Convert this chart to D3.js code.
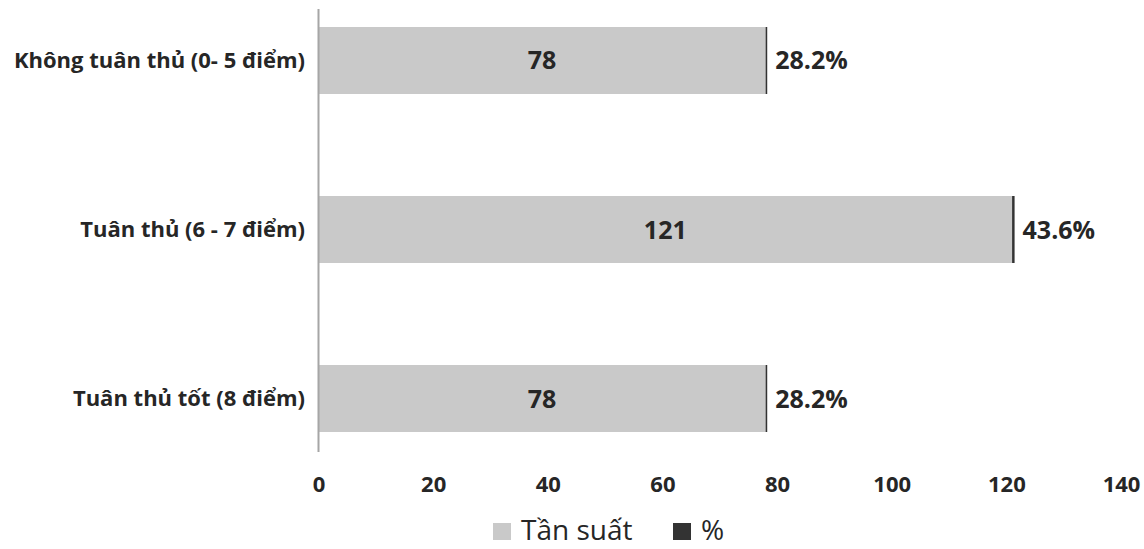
<!DOCTYPE html>
<html><head><meta charset="utf-8">
<script src="https://cdn.jsdelivr.net/npm/d3@7"></script>
<style>body{margin:0;background:#fff}svg{display:block}</style>
</head><body>
<svg id="c" width="1144" height="549"></svg>
<script>
const categories = ["Không tuân thủ (0- 5 điểm)", "Tuân thủ (6 - 7 điểm)", "Tuân thủ tốt (8 điểm)"];
const frequency = [78, 121, 78];
const percent = [28.2, 43.6, 28.2];
const xTicks = [0, 20, 40, 60, 80, 100, 120, 140];
const seriesNames = ["Tần suất", "%"];
const colors = ["#c9c9c9", "#333333"];

const svg = d3.select("#c");
const font = "'Open Sans', 'Noto Sans', sans-serif";
const textCol = "#262626";

const x = d3.scaleLinear().domain([0, 140]).range([318.5, 1121]);
const y = d3.scaleBand().domain(categories).range([27, 432]).paddingInner(0.6036).paddingOuter(0);

// bars: frequency
svg.append("g").selectAll("rect").data(categories).join("rect")
  .attr("x", x(0)).attr("y", d => y(d))
  .attr("width", (d, i) => x(frequency[i]) - x(0))
  .attr("height", y.bandwidth())
  .attr("fill", colors[0]);
// bars: percent (stacked, as fraction)
svg.append("g").selectAll("rect").data(categories).join("rect")
  .attr("x", (d, i) => x(frequency[i]))
  .attr("y", d => y(d))
  .attr("width", (d, i) => Math.max(1.5, x(frequency[i] + percent[i] / 100) - x(frequency[i])))
  .attr("height", y.bandwidth())
  .attr("fill", colors[1]);

// category axis line
svg.append("line").attr("x1", 318.5).attr("x2", 318.5).attr("y1", 9).attr("y2", 452)
  .attr("stroke", "#a6a6a6").attr("stroke-width", 2);

// value axis (labels only)
const xAxis = d3.axisBottom(x).tickValues(xTicks).tickSize(0).tickPadding(0);
const gx = svg.append("g").attr("transform", "translate(0,476)").call(xAxis);
gx.select(".domain").remove();
gx.selectAll("text").attr("font-family", font).attr("font-weight", "bold")
  .attr("font-size", 22).attr("fill", textCol).attr("dy", "0.72em");

// category labels
const yAxis = d3.axisLeft(y).tickSize(0).tickPadding(13);
const gy = svg.append("g").attr("transform", "translate(318,0)").call(yAxis);
gy.select(".domain").remove();
gy.selectAll("text").attr("font-family", font).attr("font-weight", "bold")
  .attr("font-size", 22).attr("fill", textCol);

// frequency labels
svg.append("g").selectAll("text").data(categories).join("text")
  .attr("x", (d, i) => x(frequency[i] / 2))
  .attr("y", d => y(d) + y.bandwidth() / 2)
  .attr("dy", "0.36em").attr("text-anchor", "middle")
  .attr("font-family", font).attr("font-weight", "bold").attr("font-size", 25)
  .attr("fill", textCol).text((d, i) => frequency[i]);

// percent labels
svg.append("g").selectAll("text").data(categories).join("text")
  .attr("x", (d, i) => x(frequency[i] + percent[i] / 100) + 8)
  .attr("y", d => y(d) + y.bandwidth() / 2)
  .attr("dy", "0.36em").attr("text-anchor", "start")
  .attr("font-family", font).attr("font-weight", "bold").attr("font-size", 25)
  .attr("fill", textCol).text((d, i) => percent[i].toFixed(1) + "%");

// legend
const lg = svg.append("g");
const legendX = [493, 673];
seriesNames.forEach((n, i) => {
  lg.append("rect").attr("x", legendX[i]).attr("y", 523).attr("width", 18).attr("height", 17).attr("fill", colors[i]);
  lg.append("text").attr("x", legendX[i] + 28).attr("y", 540)
    .attr("font-family", font).attr("font-size", 28).attr("fill", textCol).text(n);
});
</script>
</body></html>
